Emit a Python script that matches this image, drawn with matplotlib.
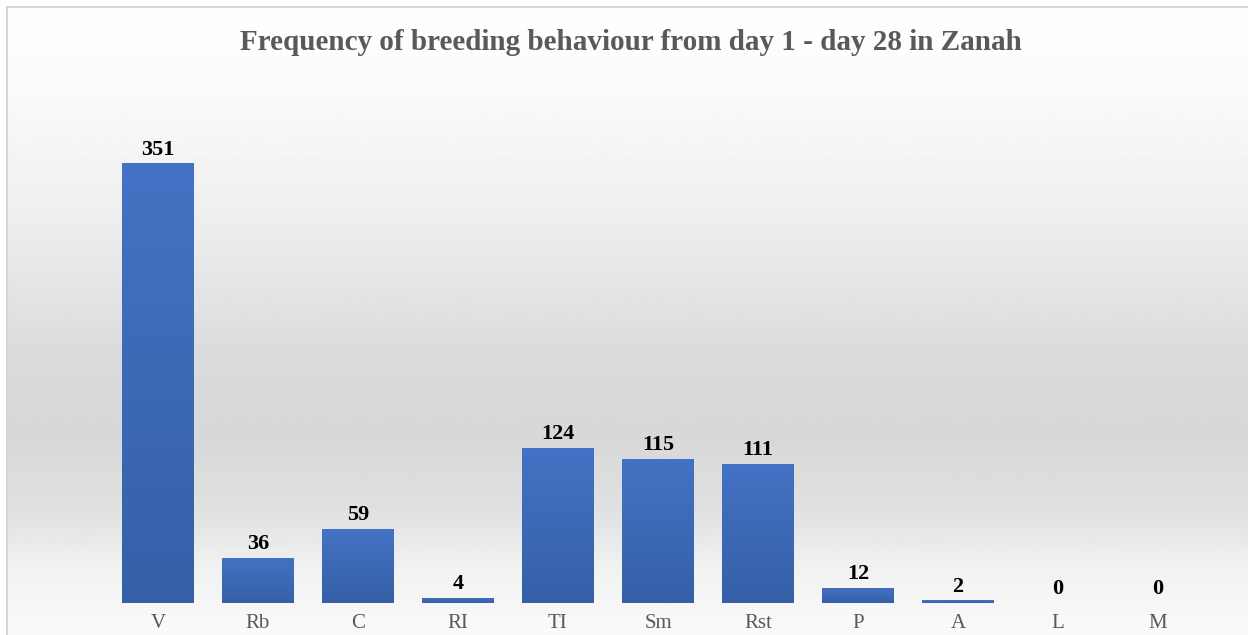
import numpy as np
import matplotlib
matplotlib.use("Agg")
import matplotlib.pyplot as plt
from matplotlib.colors import LinearSegmentedColormap

categories = ["V", "Rb", "C", "RI", "TI", "Sm", "Rst", "P", "A", "L", "M"]
values = [351, 36, 59, 4, 124, 115, 111, 12, 2, 0, 0]
title = "Frequency of breeding behaviour from day 1 - day 28 in Zanah"

plt.rcParams['font.family'] = ['Liberation Serif', 'DejaVu Serif']

fig = plt.figure(figsize=(12.48, 6.35), dpi=100)
fig.patch.set_facecolor("white")

# background gradient (chart area)
bg = fig.add_axes([7/1248, 0, 1 - 7/1248, 1 - 7/635], zorder=0)
ys = np.linspace(0, 1, 300)
stops_y = [0.0, 0.12, 0.35, 0.55, 0.68, 0.80, 0.90, 1.0]
stops_v = [0.995, 0.985, 0.93, 0.86, 0.845, 0.88, 0.95, 0.98]
vals = np.interp(ys, stops_y, stops_v)
img = np.repeat(vals[:, None], 2, axis=1)
bg.imshow(img, cmap="gray", vmin=0, vmax=1, aspect="auto", extent=[0, 1, 1, 0])
bg.set_xlim(0, 1); bg.set_ylim(1, 0)
bg.axis("off")
fig.add_artist(plt.Line2D([7/1248, 1], [1 - 7/635, 1 - 7/635], color="#d6d6d6", lw=1.5, transform=fig.transFigure))
fig.add_artist(plt.Line2D([7/1248, 7/1248], [0, 1 - 7/635], color="#d6d6d6", lw=1.5, transform=fig.transFigure))

ax = fig.add_axes([108/1248, 32/635, 1100/1248, 501/635], zorder=1)
ax.patch.set_alpha(0)
x = np.arange(len(categories))
bars = ax.bar(x, values, width=0.72, color="#3D68B8", zorder=2)

cmap = LinearSegmentedColormap.from_list("barg", ["#3560A8", "#4472C4"])
grad = np.linspace(0, 1, 256)[:, None]
for b in bars:
    h = b.get_height()
    if h <= 0:
        continue
    x0 = b.get_x(); w = b.get_width()
    im = ax.imshow(grad, cmap=cmap, aspect="auto", origin="lower",
                   extent=[x0, x0 + w, 0, h], zorder=3)
    im.set_clip_path(b)

for xi, v in zip(x, values):
    ax.text(xi, v + 3, str(v), ha="center", va="bottom", fontsize=16,
            fontweight="bold", color="black", zorder=4)

ax.set_xlim(-0.5, len(categories) - 0.5)
ax.set_ylim(0, 400)
ax.set_xticks(x)
ax.set_xticklabels(categories, fontsize=15, color="#595959")
ax.tick_params(axis="x", length=0, pad=8)
ax.set_yticks([])
for s in ax.spines.values():
    s.set_visible(False)

fig.text(631/1248, 1 - 42/635, title, ha="center", va="center", fontsize=21,
         fontweight="bold", color="#595959")

fig.savefig("out.png", dpi=100)
